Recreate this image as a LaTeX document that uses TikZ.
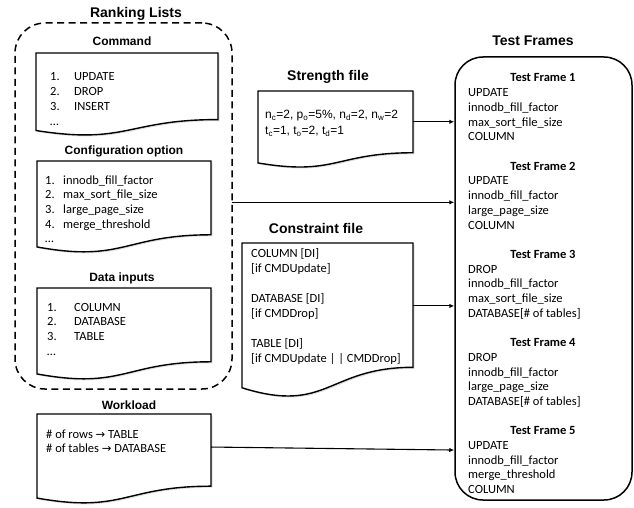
\documentclass[tikz,border=0pt]{standalone}
\usepackage{fontspec}
\setmainfont{Carlito}
\newfontfamily\arialf{Liberation Sans}
\newfontfamily\dejavu{DejaVu Sans}
\usetikzlibrary{calc,arrows.meta,shadows}

\newcommand\docoutline[1]{%
  \draw[docline] (#1.north west) -- (#1.north east)
    -- ($(#1.north east)!0.802!(#1.south east)$)
    .. controls ($(#1.north)!0.802!(#1.south)$) and ($(#1.north)!1.107!(#1.south)$)
    .. ($(#1.north west)!0.934!(#1.south west)$) -- cycle;}
\newcommand\rarr{{\dejavu\fontsize{11.5}{12}\selectfont →}}

\begin{document}
\begin{tikzpicture}[x=1pt,y=-1pt,
  docarea/.style={inner sep=0pt, outer sep=0pt, draw=none},
  docline/.style={draw=black, line width=1.4pt, fill=white,
    drop shadow={shadow xshift=1.5pt, shadow yshift=-1.5pt, opacity=0.25}},
  bigtitle/.style={font=\arialf\bfseries\fontsize{14}{16}\selectfont, anchor=base, inner sep=0pt},
  subtitle/.style={font=\arialf\bfseries\fontsize{12}{14}\selectfont, anchor=base, inner sep=0pt},
  listtext/.style={font=\fontsize{12.5}{14.7}\selectfont, anchor=base west, inner sep=0pt},
  frametitle/.style={font=\bfseries\fontsize{12.5}{14.7}\selectfont, anchor=base, inner sep=0pt},
  arr/.style={line width=1.1pt, -{Latex[length=5pt,width=4.5pt]}}
]
\useasboundingbox (0,0) rectangle (634,508);

% ---- Ranking lists (dashed)
\node[draw, dashed, dash pattern=on 7pt off 4.5pt, line width=1.5pt, rounded corners=30pt,
      minimum width=217pt, minimum height=366pt, inner sep=0pt, outer sep=0pt] (rank) at (123.5,206) {};
\node[bigtitle] (ranktitle) at (136,18) {Ranking Lists};

% Command
\node[subtitle] (cmdtitle) at (122,46) {Command};
\node[docarea, minimum width=182pt, minimum height=83pt] (cmd) at (127,94.5) {};
\docoutline{cmd}
\node[listtext] (cmdlist) at (50,81) {\begin{tabular}[t]{@{}p{24pt}@{}l@{}}
1. & UPDATE\\ 2. & DROP\\ 3. & INSERT\\ \ldots & \end{tabular}};

% Configuration option
\node[subtitle] (cfgtitle) at (124,154.5) {Configuration option};
\node[docarea, minimum width=174pt, minimum height=92pt] (cfg) at (124,207) {};
\docoutline{cfg}
\node[listtext] (cfglist) at (45,184) {\begin{tabular}[t]{@{}p{18pt}@{}l@{}}
1. & innodb\_fill\_factor\\ 2. & max\_sort\_file\_size\\ 3. & large\_page\_size\\
4. & merge\_threshold\\ \ldots & \end{tabular}};

% Data inputs
\node[subtitle] (dattitle) at (122,281) {Data inputs};
\node[docarea, minimum width=174pt, minimum height=92pt] (dat) at (124,334) {};
\docoutline{dat}
\node[listtext] (datlist) at (47,311) {\begin{tabular}[t]{@{}p{27pt}@{}l@{}}
1. & COLUMN\\ 2. & DATABASE\\ 3. & TABLE\\ \ldots & \end{tabular}};

% ---- Workload
\node[subtitle] (wltitle) at (129,409) {Workload};
\node[docarea, minimum width=174pt, minimum height=90pt] (wl) at (124,459) {};
\docoutline{wl}
\node[listtext] (wllist) at (46,438) {\begin{tabular}[t]{@{}l@{}}
\# of rows \rarr{} TABLE\\ \# of tables \rarr{} DATABASE\end{tabular}};

% ---- Strength file
\node[bigtitle] (strtitle) at (328,81) {Strength file};
\node[docarea, minimum width=155pt, minimum height=77pt] (str) at (335.5,129.5) {};
\docoutline{str}
\node[listtext, font=\arialf\fontsize{12}{16}\selectfont] (strtext) at (265,119) {\begin{tabular}[t]{@{}l@{}}
n\textsubscript{c}=2, p\textsubscript{o}=5\%, n\textsubscript{d}=2, n\textsubscript{w}=2\\
t\textsubscript{c}=1, t\textsubscript{o}=2, t\textsubscript{d}=1\end{tabular}};

% ---- Constraint file
\node[bigtitle] (contitle) at (316,233) {Constraint file};
\node[docarea, minimum width=171pt, minimum height=155pt] (con) at (327.5,320.5) {};
\docoutline{con}
\node[listtext, font=\fontsize{12.5}{15}\selectfont] (context) at (251,257) {\begin{tabular}[t]{@{}l@{}}
COLUMN [DI]\\ {[if CMDUpdate]}\\ \mbox{}\\ DATABASE [DI]\\ {[if CMDDrop]}\\ \mbox{}\\
TABLE [DI]\\ {[if CMDUpdate | | CMDDrop]}\end{tabular}};

% ---- Test frames
\node[bigtitle] (frtitle) at (533,46) {Test Frames};
\node[draw, line width=1.5pt, rounded corners=28pt, minimum width=177pt, minimum height=443pt,
      inner sep=0pt] (frames) at (543.5,278.5) {};

\node[frametitle] (f1t) at (543,82) {Test Frame 1};
\node[listtext] (f1) at (468,96.7) {\begin{tabular}[t]{@{}l@{}}
UPDATE\\ innodb\_fill\_factor\\ max\_sort\_file\_size\\ COLUMN\end{tabular}};
\node[frametitle] (f2t) at (543,170.2) {Test Frame 2};
\node[listtext] (f2) at (468,184.9) {\begin{tabular}[t]{@{}l@{}}
UPDATE\\ innodb\_fill\_factor\\ large\_page\_size\\ COLUMN\end{tabular}};
\node[frametitle] (f3t) at (543,258.4) {Test Frame 3};
\node[listtext] (f3) at (468,273.1) {\begin{tabular}[t]{@{}l@{}}
DROP\\ innodb\_fill\_factor\\ max\_sort\_file\_size\\ DATABASE[\# of tables]\end{tabular}};
\node[frametitle] (f4t) at (543,346.6) {Test Frame 4};
\node[listtext] (f4) at (468,361.3) {\begin{tabular}[t]{@{}l@{}}
DROP\\ innodb\_fill\_factor\\ large\_page\_size\\ DATABASE[\# of tables]\end{tabular}};
\node[frametitle] (f5t) at (543,434.8) {Test Frame 5};
\node[listtext] (f5) at (468,449.5) {\begin{tabular}[t]{@{}l@{}}
UPDATE\\ innodb\_fill\_factor\\ merge\_threshold\\ COLUMN\end{tabular}};

% ---- Connectors
\coordinate (s1) at ($(str.north east)!0.4!(str.south east)$);
\draw[arr] (s1) -- (s1 -| frames.west);
\coordinate (s2) at ($(rank.north east)!0.49!(rank.south east)$);
\draw[arr] (s2) -- (s2 -| frames.west);
\coordinate (s3) at ($(con.north east)!0.406!(con.south east)$);
\draw[arr] (s3) -- (s3 -| frames.west);
\coordinate (s4) at ($(wl.north east)!0.367!(wl.south east)$);
\draw[arr] (s4) -- ([yshift=-3pt]s4 -| frames.west);
\end{tikzpicture}
\end{document}
